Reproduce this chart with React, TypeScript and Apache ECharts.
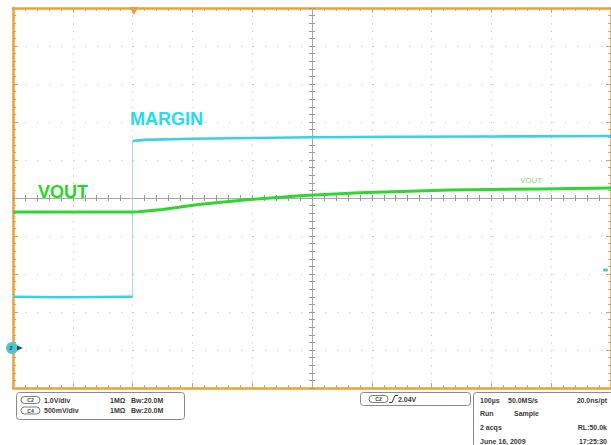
import React, { useEffect, useRef } from "react";
import * as echarts from "echarts";

// Time axis: microseconds relative to screen centre (100 µs/div)
// Vertical axis: screen divisions
const marginT = [-500, -420, -300, -300, -280, -200, -100, 0, 150, 300, 500];
const marginV = [-2.6, -2.61, -2.6, 1.5, 1.53, 1.56, 1.58, 1.6, 1.61, 1.62, 1.63];
const voutT = [-500, -400, -300, -290, -250, -190, -105, -20, 80, 230, 380, 500];
const voutV = [-0.37, -0.37, -0.37, -0.36, -0.3, -0.17, -0.04, 0.06, 0.14, 0.21, 0.24, 0.26];

const channelNames = ["C2", "C4"];
const channelScales = ["1.0V/div", "500mV/div"];
const channelImpedance = ["1MΩ", "1MΩ"];
const channelBandwidth = ["Bw:20.0M", "Bw:20.0M"];
const triggerSource = "C2";
const triggerLevel = "2.04V";
const acqLeft = ["100µs", "Run", "2 acqs", "June 16, 2009"];
const acqMid = ["50.0MS/s", "Sample", "", ""];
const acqRight = ["20.0ns/pt", "", "RL:50.0k", "17:25:30"];

const ORANGE = "#E9A23B";
const CYAN = "#3FCFE2";
const GREEN = "#2FD62F";
const FONT = "Liberation Sans";

export default function App() {
  const ref = useRef<HTMLDivElement>(null);
  useEffect(() => {
    if (!ref.current) return;
    const chart = echarts.init(ref.current, undefined, { renderer: "svg" });
    const pairs = (t: number[], v: number[]) => t.map((x, i) => [x, v[i]]);
    const m = pairs(marginT, marginV);
    const edgeIdx = 2;
    const low = m.slice(0, edgeIdx + 1);
    const edge = m.slice(edgeIdx, edgeIdx + 2);
    const high = m.slice(edgeIdx + 1);

    const borderX = (pos: string) => ({
      type: "value",
      min: -500,
      max: 500,
      interval: 100,
      position: pos,
      axisLine: { show: true, onZero: false, lineStyle: { color: ORANGE, width: 2.5 } },
      axisTick: { show: true, inside: true, length: 5, lineStyle: { color: ORANGE, width: 1 } },
      minorTick: { show: true, splitNumber: 5, length: 3, lineStyle: { color: ORANGE, width: 1 } },
      axisLabel: { show: false },
      splitLine:
        pos === "bottom"
          ? { show: true, lineStyle: { color: "#c9c9c9", width: 1.2, type: [1.2, 6.4] } }
          : { show: false },
    });
    const borderY = (pos: string) => ({
      type: "value",
      min: -5,
      max: 5,
      interval: 1,
      position: pos,
      axisLine: { show: true, onZero: false, lineStyle: { color: ORANGE, width: 2.5 } },
      axisTick: { show: true, inside: true, length: 5, lineStyle: { color: ORANGE, width: 1 } },
      minorTick: { show: true, splitNumber: 5, length: 3, lineStyle: { color: ORANGE, width: 1 } },
      axisLabel: { show: false },
      splitLine:
        pos === "left"
          ? { show: true, lineStyle: { color: "#c9c9c9", width: 1.2, type: [1.2, 10.8] } }
          : { show: false },
    });
    const centerX = (inside: boolean) => ({
      type: "value",
      min: -500,
      max: 500,
      interval: 100,
      position: "bottom",
      axisLine: { show: true, onZero: true, onZeroAxisIndex: 0, lineStyle: { color: "#a8a8a8", width: 1 } },
      axisTick: { show: true, inside, length: 3, lineStyle: { color: "#999", width: 1 } },
      minorTick: { show: true, splitNumber: 5, length: 3, lineStyle: { color: "#999", width: 1 } },
      axisLabel: { show: false },
      splitLine: { show: false },
    });
    const centerY = (inside: boolean) => ({
      type: "value",
      min: -5,
      max: 5,
      interval: 1,
      position: "left",
      axisLine: { show: true, onZero: true, onZeroAxisIndex: 0, lineStyle: { color: "#a8a8a8", width: 1 } },
      axisTick: { show: true, inside, length: 3, lineStyle: { color: "#999", width: 1 } },
      minorTick: { show: true, splitNumber: 5, length: 3, lineStyle: { color: "#999", width: 1 } },
      axisLabel: { show: false },
      splitLine: { show: false },
    });

    const txt = (x: number, y: number, text: string, opts: any = {}) => ({
      type: "text",
      x,
      y,
      z: 100,
      style: {
        text,
        fill: opts.fill || "#3a3a3a",
        fontFamily: FONT,
        fontSize: opts.size || 7,
        fontWeight: opts.weight || "bold",
        align: opts.align || "left",
        textAlign: opts.align || "left",
        verticalAlign: "middle",
        textVerticalAlign: "middle",
      },
    });
    const pill = (x: number, y: number, label: string) => [
      {
        type: "rect",
        z: 100,
        shape: { x, y: y - 3.5, width: 19, height: 7, r: 3.5 },
        style: { fill: "#fff", stroke: "#555", lineWidth: 0.8 },
      },
      txt(x + 9.5, y, label, { size: 5, align: "center" }),
    ];

    const graphics: any[] = [
      // trigger position marker
      { type: "polygon", z: 100, shape: { points: [[129.5, 7], [138.5, 7], [134, 15]] }, style: { fill: ORANGE } },
      // ground marker
      { type: "circle", z: 100, shape: { cx: 12, cy: 348, r: 6 }, style: { fill: "#4DC6CC" } },
      txt(11, 348, "2", { size: 6, fill: "#1d4d6b", align: "center" }),
      { type: "polygon", z: 100, shape: { points: [[17, 345.5], [23, 348], [17, 350.5]] }, style: { fill: "#1d4d6b" } },
      { type: "rect", z: 100, shape: { x: 603, y: 268.5, width: 5, height: 3, r: 1 }, style: { fill: CYAN } },
      // trace labels
      txt(130, 119, "MARGIN", { size: 18, fill: "#22DDF0" }),
      txt(38, 192, "VOUT", { size: 18, fill: "#22DA22" }),
      txt(520, 180, "VOUT", { size: 8, fill: "#7ED87E", weight: "normal" }),
      // bottom panels
      { type: "rect", z: 100, shape: { x: 16.5, y: 392.5, width: 168, height: 27, r: 3 }, style: { fill: "#fff", stroke: "#8a8a8a", lineWidth: 1 } },
      { type: "rect", z: 100, shape: { x: 360.5, y: 392.5, width: 110, height: 13, r: 3 }, style: { fill: "#fff", stroke: "#8a8a8a", lineWidth: 1 } },
      { type: "rect", z: 100, shape: { x: 473.5, y: 392.5, width: 140, height: 55, r: 3 }, style: { fill: "#fff", stroke: "#8a8a8a", lineWidth: 1 } },
    ];
    channelNames.forEach((c, i) => {
      const y = 400 + i * 10.5;
      graphics.push(...pill(21, y, c));
      graphics.push(txt(44, y, channelScales[i]));
      graphics.push(txt(110, y, channelImpedance[i]));
      graphics.push(txt(131, y, channelBandwidth[i]));
    });
    graphics.push(...pill(369, 399, triggerSource));
    graphics.push({
      type: "polyline",
      z: 100,
      shape: { points: [[389, 402.5], [392, 402.5], [395, 395.5], [398, 395.5]] },
      style: { stroke: "#333", lineWidth: 1, fill: "none" },
    });
    graphics.push(txt(398, 399, triggerLevel));
    acqLeft.forEach((t, i) => {
      const y = 400 + i * 13.7;
      graphics.push(txt(480, y, t));
      if (acqMid[i]) graphics.push(txt(i === 0 ? 508 : 514, y, acqMid[i]));
      if (acqRight[i]) graphics.push(txt(607, y, acqRight[i], { align: "right" }));
    });

    chart.setOption({
      animation: false,
      backgroundColor: "#ffffff",
      grid: { left: 13, top: 8, width: 600, height: 380, containLabel: false },
      xAxis: [borderX("bottom"), borderX("top"), centerX(true), centerX(false)],
      yAxis: [borderY("left"), borderY("right"), centerY(true), centerY(false)],
      series: [
        {
          name: "MARGIN low",
          type: "line",
          data: low,
          showSymbol: false,
          lineStyle: { color: CYAN, width: 2.6 },
          z: 5,
        },
        {
          name: "MARGIN edge",
          type: "line",
          data: edge,
          showSymbol: false,
          lineStyle: { color: "#9FD9E6", width: 1 },
          z: 4,
        },
        {
          name: "MARGIN",
          type: "line",
          data: high,
          showSymbol: false,
          lineStyle: { color: CYAN, width: 2.6 },
          z: 5,
        },
        {
          name: "VOUT",
          type: "line",
          data: pairs(voutT, voutV),
          showSymbol: false,
          lineStyle: { color: GREEN, width: 3 },
          z: 6,
        },
      ],
      graphic: graphics,
    });
    return () => chart.dispose();
  }, []);
  return (
    <div
      ref={ref}
      style={{ position: "absolute", left: 0, top: 0, width: 611, height: 445 }}
    />
  );
}
